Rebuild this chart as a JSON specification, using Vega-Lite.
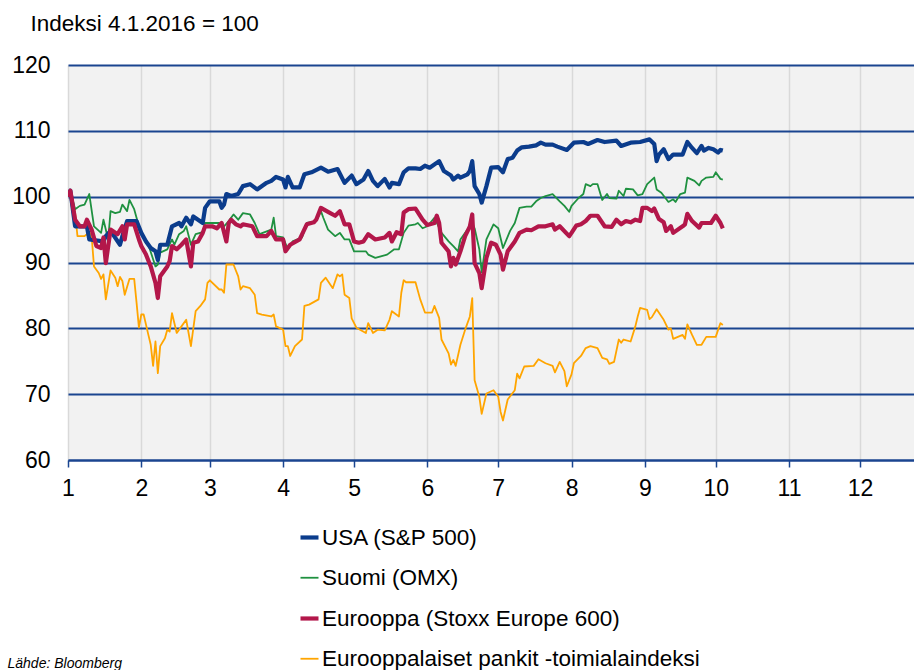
{
  "$schema": "https://vega.github.io/schema/vega-lite/v6.json",
  "autosize": {"type": "none"},
  "padding": {"left": 68, "top": 65, "right": 0, "bottom": 210},
  "width": 846,
  "height": 395,
  "background": "#ffffff",
  "config": {
    "font": "Liberation Sans",
    "view": {"stroke": null, "fill": "#f2f2f2"}
  },
  "data": {"values": [
    {"s":"Eurooppalaiset pankit -toimialaindeksi","d":"2016-01-04","v":100},
    {"s":"Eurooppalaiset pankit -toimialaindeksi","d":"2016-01-05","v":100.6},
    {"s":"Eurooppalaiset pankit -toimialaindeksi","d":"2016-01-07","v":97.6},
    {"s":"Eurooppalaiset pankit -toimialaindeksi","d":"2016-01-08","v":94},
    {"s":"Eurooppalaiset pankit -toimialaindeksi","d":"2016-01-11","v":94},
    {"s":"Eurooppalaiset pankit -toimialaindeksi","d":"2016-01-13","v":94.6},
    {"s":"Eurooppalaiset pankit -toimialaindeksi","d":"2016-01-14","v":94},
    {"s":"Eurooppalaiset pankit -toimialaindeksi","d":"2016-01-15","v":89.4},
    {"s":"Eurooppalaiset pankit -toimialaindeksi","d":"2016-01-17","v":88.4},
    {"s":"Eurooppalaiset pankit -toimialaindeksi","d":"2016-01-18","v":87.5},
    {"s":"Eurooppalaiset pankit -toimialaindeksi","d":"2016-01-19","v":88.2},
    {"s":"Eurooppalaiset pankit -toimialaindeksi","d":"2016-01-20","v":84.4},
    {"s":"Eurooppalaiset pankit -toimialaindeksi","d":"2016-01-22","v":88.8},
    {"s":"Eurooppalaiset pankit -toimialaindeksi","d":"2016-01-24","v":87.7},
    {"s":"Eurooppalaiset pankit -toimialaindeksi","d":"2016-01-25","v":86.4},
    {"s":"Eurooppalaiset pankit -toimialaindeksi","d":"2016-01-26","v":87.8},
    {"s":"Eurooppalaiset pankit -toimialaindeksi","d":"2016-01-27","v":87.2},
    {"s":"Eurooppalaiset pankit -toimialaindeksi","d":"2016-01-28","v":85.1},
    {"s":"Eurooppalaiset pankit -toimialaindeksi","d":"2016-01-30","v":87.5},
    {"s":"Eurooppalaiset pankit -toimialaindeksi","d":"2016-02-01","v":87.5},
    {"s":"Eurooppalaiset pankit -toimialaindeksi","d":"2016-02-02","v":83.9},
    {"s":"Eurooppalaiset pankit -toimialaindeksi","d":"2016-02-03","v":80.1},
    {"s":"Eurooppalaiset pankit -toimialaindeksi","d":"2016-02-04","v":82.1},
    {"s":"Eurooppalaiset pankit -toimialaindeksi","d":"2016-02-05","v":82.1},
    {"s":"Eurooppalaiset pankit -toimialaindeksi","d":"2016-02-07","v":79},
    {"s":"Eurooppalaiset pankit -toimialaindeksi","d":"2016-02-08","v":77.5},
    {"s":"Eurooppalaiset pankit -toimialaindeksi","d":"2016-02-09","v":74.3},
    {"s":"Eurooppalaiset pankit -toimialaindeksi","d":"2016-02-10","v":78},
    {"s":"Eurooppalaiset pankit -toimialaindeksi","d":"2016-02-11","v":73.2},
    {"s":"Eurooppalaiset pankit -toimialaindeksi","d":"2016-02-12","v":77.3},
    {"s":"Eurooppalaiset pankit -toimialaindeksi","d":"2016-02-14","v":78.5},
    {"s":"Eurooppalaiset pankit -toimialaindeksi","d":"2016-02-15","v":79.8},
    {"s":"Eurooppalaiset pankit -toimialaindeksi","d":"2016-02-16","v":79.5},
    {"s":"Eurooppalaiset pankit -toimialaindeksi","d":"2016-02-17","v":82.3},
    {"s":"Eurooppalaiset pankit -toimialaindeksi","d":"2016-02-19","v":79.3},
    {"s":"Eurooppalaiset pankit -toimialaindeksi","d":"2016-02-21","v":80.3},
    {"s":"Eurooppalaiset pankit -toimialaindeksi","d":"2016-02-23","v":81.3},
    {"s":"Eurooppalaiset pankit -toimialaindeksi","d":"2016-02-25","v":77.3},
    {"s":"Eurooppalaiset pankit -toimialaindeksi","d":"2016-02-27","v":82.6},
    {"s":"Eurooppalaiset pankit -toimialaindeksi","d":"2016-02-29","v":83.4},
    {"s":"Eurooppalaiset pankit -toimialaindeksi","d":"2016-03-02","v":84.4},
    {"s":"Eurooppalaiset pankit -toimialaindeksi","d":"2016-03-03","v":86.9},
    {"s":"Eurooppalaiset pankit -toimialaindeksi","d":"2016-03-04","v":87.3},
    {"s":"Eurooppalaiset pankit -toimialaindeksi","d":"2016-03-08","v":85.9},
    {"s":"Eurooppalaiset pankit -toimialaindeksi","d":"2016-03-09","v":85.9},
    {"s":"Eurooppalaiset pankit -toimialaindeksi","d":"2016-03-10","v":85.4},
    {"s":"Eurooppalaiset pankit -toimialaindeksi","d":"2016-03-11","v":89.7},
    {"s":"Eurooppalaiset pankit -toimialaindeksi","d":"2016-03-14","v":89.7},
    {"s":"Eurooppalaiset pankit -toimialaindeksi","d":"2016-03-16","v":87.9},
    {"s":"Eurooppalaiset pankit -toimialaindeksi","d":"2016-03-17","v":85.9},
    {"s":"Eurooppalaiset pankit -toimialaindeksi","d":"2016-03-18","v":86.4},
    {"s":"Eurooppalaiset pankit -toimialaindeksi","d":"2016-03-21","v":86.1},
    {"s":"Eurooppalaiset pankit -toimialaindeksi","d":"2016-03-23","v":85.1},
    {"s":"Eurooppalaiset pankit -toimialaindeksi","d":"2016-03-24","v":82.3},
    {"s":"Eurooppalaiset pankit -toimialaindeksi","d":"2016-03-26","v":82.1},
    {"s":"Eurooppalaiset pankit -toimialaindeksi","d":"2016-03-30","v":81.8},
    {"s":"Eurooppalaiset pankit -toimialaindeksi","d":"2016-03-31","v":82.1},
    {"s":"Eurooppalaiset pankit -toimialaindeksi","d":"2016-04-01","v":80.3},
    {"s":"Eurooppalaiset pankit -toimialaindeksi","d":"2016-04-04","v":79.8},
    {"s":"Eurooppalaiset pankit -toimialaindeksi","d":"2016-04-05","v":77.3},
    {"s":"Eurooppalaiset pankit -toimialaindeksi","d":"2016-04-06","v":77.3},
    {"s":"Eurooppalaiset pankit -toimialaindeksi","d":"2016-04-07","v":75.8},
    {"s":"Eurooppalaiset pankit -toimialaindeksi","d":"2016-04-09","v":77.3},
    {"s":"Eurooppalaiset pankit -toimialaindeksi","d":"2016-04-12","v":78.3},
    {"s":"Eurooppalaiset pankit -toimialaindeksi","d":"2016-04-13","v":83.4},
    {"s":"Eurooppalaiset pankit -toimialaindeksi","d":"2016-04-15","v":83.6},
    {"s":"Eurooppalaiset pankit -toimialaindeksi","d":"2016-04-19","v":84.4},
    {"s":"Eurooppalaiset pankit -toimialaindeksi","d":"2016-04-20","v":86.9},
    {"s":"Eurooppalaiset pankit -toimialaindeksi","d":"2016-04-22","v":87.7},
    {"s":"Eurooppalaiset pankit -toimialaindeksi","d":"2016-04-25","v":86.1},
    {"s":"Eurooppalaiset pankit -toimialaindeksi","d":"2016-04-27","v":88.2},
    {"s":"Eurooppalaiset pankit -toimialaindeksi","d":"2016-04-28","v":87.9},
    {"s":"Eurooppalaiset pankit -toimialaindeksi","d":"2016-04-29","v":88.2},
    {"s":"Eurooppalaiset pankit -toimialaindeksi","d":"2016-04-30","v":85.1},
    {"s":"Eurooppalaiset pankit -toimialaindeksi","d":"2016-05-02","v":84.6},
    {"s":"Eurooppalaiset pankit -toimialaindeksi","d":"2016-05-03","v":81.5},
    {"s":"Eurooppalaiset pankit -toimialaindeksi","d":"2016-05-05","v":80.1},
    {"s":"Eurooppalaiset pankit -toimialaindeksi","d":"2016-05-09","v":79.3},
    {"s":"Eurooppalaiset pankit -toimialaindeksi","d":"2016-05-10","v":80.8},
    {"s":"Eurooppalaiset pankit -toimialaindeksi","d":"2016-05-12","v":79.3},
    {"s":"Eurooppalaiset pankit -toimialaindeksi","d":"2016-05-14","v":79.8},
    {"s":"Eurooppalaiset pankit -toimialaindeksi","d":"2016-05-17","v":79.7},
    {"s":"Eurooppalaiset pankit -toimialaindeksi","d":"2016-05-19","v":81.3},
    {"s":"Eurooppalaiset pankit -toimialaindeksi","d":"2016-05-20","v":82.6},
    {"s":"Eurooppalaiset pankit -toimialaindeksi","d":"2016-05-23","v":81.8},
    {"s":"Eurooppalaiset pankit -toimialaindeksi","d":"2016-05-24","v":85.4},
    {"s":"Eurooppalaiset pankit -toimialaindeksi","d":"2016-05-25","v":87.3},
    {"s":"Eurooppalaiset pankit -toimialaindeksi","d":"2016-05-26","v":87},
    {"s":"Eurooppalaiset pankit -toimialaindeksi","d":"2016-05-30","v":87},
    {"s":"Eurooppalaiset pankit -toimialaindeksi","d":"2016-06-01","v":84.4},
    {"s":"Eurooppalaiset pankit -toimialaindeksi","d":"2016-06-03","v":82.4},
    {"s":"Eurooppalaiset pankit -toimialaindeksi","d":"2016-06-06","v":82.4},
    {"s":"Eurooppalaiset pankit -toimialaindeksi","d":"2016-06-07","v":83.4},
    {"s":"Eurooppalaiset pankit -toimialaindeksi","d":"2016-06-09","v":81.6},
    {"s":"Eurooppalaiset pankit -toimialaindeksi","d":"2016-06-10","v":78.3},
    {"s":"Eurooppalaiset pankit -toimialaindeksi","d":"2016-06-13","v":76.2},
    {"s":"Eurooppalaiset pankit -toimialaindeksi","d":"2016-06-14","v":74.5},
    {"s":"Eurooppalaiset pankit -toimialaindeksi","d":"2016-06-15","v":75.2},
    {"s":"Eurooppalaiset pankit -toimialaindeksi","d":"2016-06-16","v":74.3},
    {"s":"Eurooppalaiset pankit -toimialaindeksi","d":"2016-06-18","v":77.5},
    {"s":"Eurooppalaiset pankit -toimialaindeksi","d":"2016-06-20","v":79.8},
    {"s":"Eurooppalaiset pankit -toimialaindeksi","d":"2016-06-22","v":81.8},
    {"s":"Eurooppalaiset pankit -toimialaindeksi","d":"2016-06-23","v":84.6},
    {"s":"Eurooppalaiset pankit -toimialaindeksi","d":"2016-06-24","v":72.1},
    {"s":"Eurooppalaiset pankit -toimialaindeksi","d":"2016-06-26","v":69.6},
    {"s":"Eurooppalaiset pankit -toimialaindeksi","d":"2016-06-27","v":67},
    {"s":"Eurooppalaiset pankit -toimialaindeksi","d":"2016-06-29","v":70.1},
    {"s":"Eurooppalaiset pankit -toimialaindeksi","d":"2016-07-02","v":70.6},
    {"s":"Eurooppalaiset pankit -toimialaindeksi","d":"2016-07-04","v":69.6},
    {"s":"Eurooppalaiset pankit -toimialaindeksi","d":"2016-07-05","v":67.3},
    {"s":"Eurooppalaiset pankit -toimialaindeksi","d":"2016-07-06","v":66},
    {"s":"Eurooppalaiset pankit -toimialaindeksi","d":"2016-07-08","v":69.2},
    {"s":"Eurooppalaiset pankit -toimialaindeksi","d":"2016-07-11","v":70.6},
    {"s":"Eurooppalaiset pankit -toimialaindeksi","d":"2016-07-12","v":73.1},
    {"s":"Eurooppalaiset pankit -toimialaindeksi","d":"2016-07-13","v":72.4},
    {"s":"Eurooppalaiset pankit -toimialaindeksi","d":"2016-07-15","v":74.2},
    {"s":"Eurooppalaiset pankit -toimialaindeksi","d":"2016-07-19","v":74.3},
    {"s":"Eurooppalaiset pankit -toimialaindeksi","d":"2016-07-21","v":75.3},
    {"s":"Eurooppalaiset pankit -toimialaindeksi","d":"2016-07-24","v":74.7},
    {"s":"Eurooppalaiset pankit -toimialaindeksi","d":"2016-07-27","v":74.3},
    {"s":"Eurooppalaiset pankit -toimialaindeksi","d":"2016-07-28","v":73.3},
    {"s":"Eurooppalaiset pankit -toimialaindeksi","d":"2016-07-30","v":74.9},
    {"s":"Eurooppalaiset pankit -toimialaindeksi","d":"2016-08-01","v":73.5},
    {"s":"Eurooppalaiset pankit -toimialaindeksi","d":"2016-08-02","v":71.2},
    {"s":"Eurooppalaiset pankit -toimialaindeksi","d":"2016-08-04","v":73},
    {"s":"Eurooppalaiset pankit -toimialaindeksi","d":"2016-08-05","v":74.7},
    {"s":"Eurooppalaiset pankit -toimialaindeksi","d":"2016-08-08","v":75.8},
    {"s":"Eurooppalaiset pankit -toimialaindeksi","d":"2016-08-10","v":77},
    {"s":"Eurooppalaiset pankit -toimialaindeksi","d":"2016-08-12","v":77.3},
    {"s":"Eurooppalaiset pankit -toimialaindeksi","d":"2016-08-15","v":77},
    {"s":"Eurooppalaiset pankit -toimialaindeksi","d":"2016-08-17","v":75.5},
    {"s":"Eurooppalaiset pankit -toimialaindeksi","d":"2016-08-19","v":75.3},
    {"s":"Eurooppalaiset pankit -toimialaindeksi","d":"2016-08-20","v":74.6},
    {"s":"Eurooppalaiset pankit -toimialaindeksi","d":"2016-08-22","v":74.9},
    {"s":"Eurooppalaiset pankit -toimialaindeksi","d":"2016-08-24","v":78.3},
    {"s":"Eurooppalaiset pankit -toimialaindeksi","d":"2016-08-25","v":77.8},
    {"s":"Eurooppalaiset pankit -toimialaindeksi","d":"2016-08-26","v":78.3},
    {"s":"Eurooppalaiset pankit -toimialaindeksi","d":"2016-08-29","v":78},
    {"s":"Eurooppalaiset pankit -toimialaindeksi","d":"2016-08-31","v":80.3},
    {"s":"Eurooppalaiset pankit -toimialaindeksi","d":"2016-09-01","v":81.8},
    {"s":"Eurooppalaiset pankit -toimialaindeksi","d":"2016-09-02","v":83.1},
    {"s":"Eurooppalaiset pankit -toimialaindeksi","d":"2016-09-05","v":82.8},
    {"s":"Eurooppalaiset pankit -toimialaindeksi","d":"2016-09-06","v":81.4},
    {"s":"Eurooppalaiset pankit -toimialaindeksi","d":"2016-09-07","v":81.7},
    {"s":"Eurooppalaiset pankit -toimialaindeksi","d":"2016-09-09","v":82.9},
    {"s":"Eurooppalaiset pankit -toimialaindeksi","d":"2016-09-12","v":81.3},
    {"s":"Eurooppalaiset pankit -toimialaindeksi","d":"2016-09-14","v":79.8},
    {"s":"Eurooppalaiset pankit -toimialaindeksi","d":"2016-09-15","v":80},
    {"s":"Eurooppalaiset pankit -toimialaindeksi","d":"2016-09-16","v":78.4},
    {"s":"Eurooppalaiset pankit -toimialaindeksi","d":"2016-09-20","v":79},
    {"s":"Eurooppalaiset pankit -toimialaindeksi","d":"2016-09-21","v":78.4},
    {"s":"Eurooppalaiset pankit -toimialaindeksi","d":"2016-09-22","v":80.6},
    {"s":"Eurooppalaiset pankit -toimialaindeksi","d":"2016-09-24","v":79},
    {"s":"Eurooppalaiset pankit -toimialaindeksi","d":"2016-09-26","v":77.5},
    {"s":"Eurooppalaiset pankit -toimialaindeksi","d":"2016-09-28","v":77.5},
    {"s":"Eurooppalaiset pankit -toimialaindeksi","d":"2016-09-30","v":78.7},
    {"s":"Eurooppalaiset pankit -toimialaindeksi","d":"2016-10-04","v":78.7},
    {"s":"Eurooppalaiset pankit -toimialaindeksi","d":"2016-10-06","v":80.8},
    {"s":"Eurooppalaiset pankit -toimialaindeksi","d":"2016-10-07","v":80.5},

    {"s":"Suomi (OMX)","d":"2016-01-04","v":100},
    {"s":"Suomi (OMX)","d":"2016-01-05","v":100.9},
    {"s":"Suomi (OMX)","d":"2016-01-07","v":98.1},
    {"s":"Suomi (OMX)","d":"2016-01-09","v":98.6},
    {"s":"Suomi (OMX)","d":"2016-01-11","v":98.8},
    {"s":"Suomi (OMX)","d":"2016-01-13","v":100.4},
    {"s":"Suomi (OMX)","d":"2016-01-15","v":95.5},
    {"s":"Suomi (OMX)","d":"2016-01-18","v":94.5},
    {"s":"Suomi (OMX)","d":"2016-01-19","v":96.5},
    {"s":"Suomi (OMX)","d":"2016-01-21","v":93.5},
    {"s":"Suomi (OMX)","d":"2016-01-22","v":97.8},
    {"s":"Suomi (OMX)","d":"2016-01-24","v":97.5},
    {"s":"Suomi (OMX)","d":"2016-01-26","v":97.7},
    {"s":"Suomi (OMX)","d":"2016-01-27","v":98.8},
    {"s":"Suomi (OMX)","d":"2016-01-29","v":97.8},
    {"s":"Suomi (OMX)","d":"2016-01-30","v":99.5},
    {"s":"Suomi (OMX)","d":"2016-02-01","v":98.1},
    {"s":"Suomi (OMX)","d":"2016-02-03","v":95.5},
    {"s":"Suomi (OMX)","d":"2016-02-04","v":94.3},
    {"s":"Suomi (OMX)","d":"2016-02-07","v":92.7},
    {"s":"Suomi (OMX)","d":"2016-02-10","v":89.4},
    {"s":"Suomi (OMX)","d":"2016-02-11","v":89.7},
    {"s":"Suomi (OMX)","d":"2016-02-12","v":91.5},
    {"s":"Suomi (OMX)","d":"2016-02-15","v":92},
    {"s":"Suomi (OMX)","d":"2016-02-17","v":93.5},
    {"s":"Suomi (OMX)","d":"2016-02-18","v":92.7},
    {"s":"Suomi (OMX)","d":"2016-02-20","v":94.3},
    {"s":"Suomi (OMX)","d":"2016-02-22","v":94.8},
    {"s":"Suomi (OMX)","d":"2016-02-23","v":95.5},
    {"s":"Suomi (OMX)","d":"2016-02-25","v":92.7},
    {"s":"Suomi (OMX)","d":"2016-02-27","v":94.3},
    {"s":"Suomi (OMX)","d":"2016-03-01","v":94.6},
    {"s":"Suomi (OMX)","d":"2016-03-02","v":96},
    {"s":"Suomi (OMX)","d":"2016-03-04","v":96},
    {"s":"Suomi (OMX)","d":"2016-03-08","v":96},
    {"s":"Suomi (OMX)","d":"2016-03-10","v":95.5},
    {"s":"Suomi (OMX)","d":"2016-03-12","v":96.3},
    {"s":"Suomi (OMX)","d":"2016-03-14","v":97.3},
    {"s":"Suomi (OMX)","d":"2016-03-16","v":96.5},
    {"s":"Suomi (OMX)","d":"2016-03-18","v":97.5},
    {"s":"Suomi (OMX)","d":"2016-03-21","v":97.3},
    {"s":"Suomi (OMX)","d":"2016-03-23","v":96},
    {"s":"Suomi (OMX)","d":"2016-03-25","v":94.3},
    {"s":"Suomi (OMX)","d":"2016-03-30","v":95},
    {"s":"Suomi (OMX)","d":"2016-03-31","v":96.8},
    {"s":"Suomi (OMX)","d":"2016-04-01","v":94},
    {"s":"Suomi (OMX)","d":"2016-04-04","v":93.8},
    {"s":"Suomi (OMX)","d":"2016-04-06","v":92},
    {"s":"Suomi (OMX)","d":"2016-04-08","v":93.2},
    {"s":"Suomi (OMX)","d":"2016-04-12","v":93.8},
    {"s":"Suomi (OMX)","d":"2016-04-14","v":96},
    {"s":"Suomi (OMX)","d":"2016-04-18","v":96.3},
    {"s":"Suomi (OMX)","d":"2016-04-20","v":97.8},
    {"s":"Suomi (OMX)","d":"2016-04-21","v":96.8},
    {"s":"Suomi (OMX)","d":"2016-04-23","v":95},
    {"s":"Suomi (OMX)","d":"2016-04-26","v":94},
    {"s":"Suomi (OMX)","d":"2016-04-28","v":94.5},
    {"s":"Suomi (OMX)","d":"2016-04-30","v":93.5},
    {"s":"Suomi (OMX)","d":"2016-05-02","v":93.5},
    {"s":"Suomi (OMX)","d":"2016-05-04","v":91.7},
    {"s":"Suomi (OMX)","d":"2016-05-09","v":91.7},
    {"s":"Suomi (OMX)","d":"2016-05-10","v":91.2},
    {"s":"Suomi (OMX)","d":"2016-05-13","v":90.7},
    {"s":"Suomi (OMX)","d":"2016-05-18","v":91.2},
    {"s":"Suomi (OMX)","d":"2016-05-21","v":92},
    {"s":"Suomi (OMX)","d":"2016-05-23","v":92},
    {"s":"Suomi (OMX)","d":"2016-05-25","v":94.5},
    {"s":"Suomi (OMX)","d":"2016-05-27","v":95.6},
    {"s":"Suomi (OMX)","d":"2016-05-30","v":95.8},
    {"s":"Suomi (OMX)","d":"2016-05-31","v":96},
    {"s":"Suomi (OMX)","d":"2016-06-02","v":95.2},
    {"s":"Suomi (OMX)","d":"2016-06-04","v":95.5},
    {"s":"Suomi (OMX)","d":"2016-06-07","v":96.8},
    {"s":"Suomi (OMX)","d":"2016-06-10","v":94.5},
    {"s":"Suomi (OMX)","d":"2016-06-13","v":93.2},
    {"s":"Suomi (OMX)","d":"2016-06-15","v":92.5},
    {"s":"Suomi (OMX)","d":"2016-06-17","v":91.7},
    {"s":"Suomi (OMX)","d":"2016-06-18","v":93.5},
    {"s":"Suomi (OMX)","d":"2016-06-20","v":94.5},
    {"s":"Suomi (OMX)","d":"2016-06-23","v":96},
    {"s":"Suomi (OMX)","d":"2016-06-24","v":95.2},
    {"s":"Suomi (OMX)","d":"2016-06-26","v":92},
    {"s":"Suomi (OMX)","d":"2016-06-27","v":88.5},
    {"s":"Suomi (OMX)","d":"2016-06-29","v":93.5},
    {"s":"Suomi (OMX)","d":"2016-07-02","v":95.8},
    {"s":"Suomi (OMX)","d":"2016-07-04","v":95.2},
    {"s":"Suomi (OMX)","d":"2016-07-06","v":92.2},
    {"s":"Suomi (OMX)","d":"2016-07-09","v":94.8},
    {"s":"Suomi (OMX)","d":"2016-07-11","v":96},
    {"s":"Suomi (OMX)","d":"2016-07-13","v":98.3},
    {"s":"Suomi (OMX)","d":"2016-07-16","v":98.5},
    {"s":"Suomi (OMX)","d":"2016-07-18","v":98.5},
    {"s":"Suomi (OMX)","d":"2016-07-20","v":99.3},
    {"s":"Suomi (OMX)","d":"2016-07-22","v":99.8},
    {"s":"Suomi (OMX)","d":"2016-07-24","v":100.1},
    {"s":"Suomi (OMX)","d":"2016-07-27","v":100.4},
    {"s":"Suomi (OMX)","d":"2016-07-30","v":99.3},
    {"s":"Suomi (OMX)","d":"2016-08-01","v":98.6},
    {"s":"Suomi (OMX)","d":"2016-08-03","v":97.7},
    {"s":"Suomi (OMX)","d":"2016-08-04","v":98.6},
    {"s":"Suomi (OMX)","d":"2016-08-07","v":99.8},
    {"s":"Suomi (OMX)","d":"2016-08-09","v":100.4},
    {"s":"Suomi (OMX)","d":"2016-08-10","v":101.9},
    {"s":"Suomi (OMX)","d":"2016-08-12","v":101.6},
    {"s":"Suomi (OMX)","d":"2016-08-13","v":101.9},
    {"s":"Suomi (OMX)","d":"2016-08-15","v":101.9},
    {"s":"Suomi (OMX)","d":"2016-08-17","v":99.5},
    {"s":"Suomi (OMX)","d":"2016-08-19","v":100.4},
    {"s":"Suomi (OMX)","d":"2016-08-20","v":99.8},
    {"s":"Suomi (OMX)","d":"2016-08-23","v":99.7},
    {"s":"Suomi (OMX)","d":"2016-08-24","v":100.9},
    {"s":"Suomi (OMX)","d":"2016-08-26","v":100.1},
    {"s":"Suomi (OMX)","d":"2016-08-27","v":101.2},
    {"s":"Suomi (OMX)","d":"2016-08-30","v":101.1},
    {"s":"Suomi (OMX)","d":"2016-09-01","v":100.2},
    {"s":"Suomi (OMX)","d":"2016-09-03","v":100.4},
    {"s":"Suomi (OMX)","d":"2016-09-05","v":101.9},
    {"s":"Suomi (OMX)","d":"2016-09-08","v":102.9},
    {"s":"Suomi (OMX)","d":"2016-09-09","v":101.1},
    {"s":"Suomi (OMX)","d":"2016-09-11","v":100.6},
    {"s":"Suomi (OMX)","d":"2016-09-14","v":99.2},
    {"s":"Suomi (OMX)","d":"2016-09-16","v":99.6},
    {"s":"Suomi (OMX)","d":"2016-09-17","v":99.2},
    {"s":"Suomi (OMX)","d":"2016-09-19","v":100.4},
    {"s":"Suomi (OMX)","d":"2016-09-21","v":100.6},
    {"s":"Suomi (OMX)","d":"2016-09-22","v":102.9},
    {"s":"Suomi (OMX)","d":"2016-09-25","v":102.4},
    {"s":"Suomi (OMX)","d":"2016-09-27","v":101.7},
    {"s":"Suomi (OMX)","d":"2016-09-28","v":102.4},
    {"s":"Suomi (OMX)","d":"2016-09-30","v":102.9},
    {"s":"Suomi (OMX)","d":"2016-10-03","v":103},
    {"s":"Suomi (OMX)","d":"2016-10-04","v":103.7},
    {"s":"Suomi (OMX)","d":"2016-10-06","v":102.7},
    {"s":"Suomi (OMX)","d":"2016-10-07","v":102.6},

    {"s":"USA (S&P 500)","d":"2016-01-04","v":100},
    {"s":"USA (S&P 500)","d":"2016-01-05","v":100.9},
    {"s":"USA (S&P 500)","d":"2016-01-07","v":95.5},
    {"s":"USA (S&P 500)","d":"2016-01-12","v":95.5},
    {"s":"USA (S&P 500)","d":"2016-01-13","v":93.5},
    {"s":"USA (S&P 500)","d":"2016-01-19","v":93.2},
    {"s":"USA (S&P 500)","d":"2016-01-20","v":94},
    {"s":"USA (S&P 500)","d":"2016-01-22","v":94.8},
    {"s":"USA (S&P 500)","d":"2016-01-26","v":92.7},
    {"s":"USA (S&P 500)","d":"2016-01-27","v":94},
    {"s":"USA (S&P 500)","d":"2016-01-29","v":96.3},
    {"s":"USA (S&P 500)","d":"2016-02-02","v":96.3},
    {"s":"USA (S&P 500)","d":"2016-02-04","v":94.5},
    {"s":"USA (S&P 500)","d":"2016-02-06","v":93.2},
    {"s":"USA (S&P 500)","d":"2016-02-08","v":92.2},
    {"s":"USA (S&P 500)","d":"2016-02-10","v":91.7},
    {"s":"USA (S&P 500)","d":"2016-02-11","v":90.4},
    {"s":"USA (S&P 500)","d":"2016-02-12","v":92.7},
    {"s":"USA (S&P 500)","d":"2016-02-15","v":92.7},
    {"s":"USA (S&P 500)","d":"2016-02-17","v":95.5},
    {"s":"USA (S&P 500)","d":"2016-02-20","v":96},
    {"s":"USA (S&P 500)","d":"2016-02-21","v":95.5},
    {"s":"USA (S&P 500)","d":"2016-02-23","v":96.8},
    {"s":"USA (S&P 500)","d":"2016-02-25","v":95.8},
    {"s":"USA (S&P 500)","d":"2016-02-26","v":97},
    {"s":"USA (S&P 500)","d":"2016-03-01","v":96},
    {"s":"USA (S&P 500)","d":"2016-03-02","v":98.3},
    {"s":"USA (S&P 500)","d":"2016-03-04","v":99.3},
    {"s":"USA (S&P 500)","d":"2016-03-08","v":99.3},
    {"s":"USA (S&P 500)","d":"2016-03-09","v":98.3},
    {"s":"USA (S&P 500)","d":"2016-03-10","v":98.8},
    {"s":"USA (S&P 500)","d":"2016-03-11","v":100.4},
    {"s":"USA (S&P 500)","d":"2016-03-13","v":100.1},
    {"s":"USA (S&P 500)","d":"2016-03-16","v":100.4},
    {"s":"USA (S&P 500)","d":"2016-03-18","v":101.6},
    {"s":"USA (S&P 500)","d":"2016-03-21","v":101.9},
    {"s":"USA (S&P 500)","d":"2016-03-24","v":101.1},
    {"s":"USA (S&P 500)","d":"2016-03-28","v":102.1},
    {"s":"USA (S&P 500)","d":"2016-03-30","v":102.4},
    {"s":"USA (S&P 500)","d":"2016-04-01","v":103},
    {"s":"USA (S&P 500)","d":"2016-04-04","v":102.6},
    {"s":"USA (S&P 500)","d":"2016-04-05","v":101.4},
    {"s":"USA (S&P 500)","d":"2016-04-06","v":103},
    {"s":"USA (S&P 500)","d":"2016-04-08","v":101.4},
    {"s":"USA (S&P 500)","d":"2016-04-11","v":101.4},
    {"s":"USA (S&P 500)","d":"2016-04-13","v":103.4},
    {"s":"USA (S&P 500)","d":"2016-04-16","v":103.7},
    {"s":"USA (S&P 500)","d":"2016-04-20","v":104.4},
    {"s":"USA (S&P 500)","d":"2016-04-23","v":103.8},
    {"s":"USA (S&P 500)","d":"2016-04-27","v":104.2},
    {"s":"USA (S&P 500)","d":"2016-04-30","v":102.1},
    {"s":"USA (S&P 500)","d":"2016-05-03","v":103.2},
    {"s":"USA (S&P 500)","d":"2016-05-05","v":101.9},
    {"s":"USA (S&P 500)","d":"2016-05-08","v":102.6},
    {"s":"USA (S&P 500)","d":"2016-05-10","v":103.9},
    {"s":"USA (S&P 500)","d":"2016-05-12","v":102.4},
    {"s":"USA (S&P 500)","d":"2016-05-14","v":101.6},
    {"s":"USA (S&P 500)","d":"2016-05-17","v":102.7},
    {"s":"USA (S&P 500)","d":"2016-05-19","v":101.4},
    {"s":"USA (S&P 500)","d":"2016-05-20","v":102.1},
    {"s":"USA (S&P 500)","d":"2016-05-23","v":101.9},
    {"s":"USA (S&P 500)","d":"2016-05-25","v":103.7},
    {"s":"USA (S&P 500)","d":"2016-05-27","v":104.3},
    {"s":"USA (S&P 500)","d":"2016-05-30","v":104.3},
    {"s":"USA (S&P 500)","d":"2016-06-01","v":104.2},
    {"s":"USA (S&P 500)","d":"2016-06-03","v":104.7},
    {"s":"USA (S&P 500)","d":"2016-06-05","v":104.4},
    {"s":"USA (S&P 500)","d":"2016-06-09","v":105.4},
    {"s":"USA (S&P 500)","d":"2016-06-11","v":103.9},
    {"s":"USA (S&P 500)","d":"2016-06-14","v":103.2},
    {"s":"USA (S&P 500)","d":"2016-06-15","v":102.6},
    {"s":"USA (S&P 500)","d":"2016-06-17","v":103.2},
    {"s":"USA (S&P 500)","d":"2016-06-18","v":102.9},
    {"s":"USA (S&P 500)","d":"2016-06-21","v":103.4},
    {"s":"USA (S&P 500)","d":"2016-06-22","v":103.9},
    {"s":"USA (S&P 500)","d":"2016-06-23","v":105.4},
    {"s":"USA (S&P 500)","d":"2016-06-24","v":101.6},
    {"s":"USA (S&P 500)","d":"2016-06-26","v":100.4},
    {"s":"USA (S&P 500)","d":"2016-06-27","v":99.1},
    {"s":"USA (S&P 500)","d":"2016-06-29","v":101.6},
    {"s":"USA (S&P 500)","d":"2016-07-01","v":104.4},
    {"s":"USA (S&P 500)","d":"2016-07-04","v":104.5},
    {"s":"USA (S&P 500)","d":"2016-07-06","v":103.7},
    {"s":"USA (S&P 500)","d":"2016-07-08","v":105.7},
    {"s":"USA (S&P 500)","d":"2016-07-10","v":105.9},
    {"s":"USA (S&P 500)","d":"2016-07-12","v":107},
    {"s":"USA (S&P 500)","d":"2016-07-14","v":107.5},
    {"s":"USA (S&P 500)","d":"2016-07-17","v":107.6},
    {"s":"USA (S&P 500)","d":"2016-07-20","v":107.8},
    {"s":"USA (S&P 500)","d":"2016-07-22","v":108.2},
    {"s":"USA (S&P 500)","d":"2016-07-24","v":107.9},
    {"s":"USA (S&P 500)","d":"2016-07-27","v":107.9},
    {"s":"USA (S&P 500)","d":"2016-07-29","v":107.6},
    {"s":"USA (S&P 500)","d":"2016-08-02","v":107.1},
    {"s":"USA (S&P 500)","d":"2016-08-05","v":108.2},
    {"s":"USA (S&P 500)","d":"2016-08-09","v":108.3},
    {"s":"USA (S&P 500)","d":"2016-08-11","v":108},
    {"s":"USA (S&P 500)","d":"2016-08-15","v":108.6},
    {"s":"USA (S&P 500)","d":"2016-08-18","v":108.3},
    {"s":"USA (S&P 500)","d":"2016-08-23","v":108.5},
    {"s":"USA (S&P 500)","d":"2016-08-25","v":107.7},
    {"s":"USA (S&P 500)","d":"2016-08-29","v":108.2},
    {"s":"USA (S&P 500)","d":"2016-09-02","v":108.3},
    {"s":"USA (S&P 500)","d":"2016-09-06","v":108.7},
    {"s":"USA (S&P 500)","d":"2016-09-08","v":108},
    {"s":"USA (S&P 500)","d":"2016-09-09","v":105.4},
    {"s":"USA (S&P 500)","d":"2016-09-10","v":106.4},
    {"s":"USA (S&P 500)","d":"2016-09-12","v":107.2},
    {"s":"USA (S&P 500)","d":"2016-09-14","v":105.7},
    {"s":"USA (S&P 500)","d":"2016-09-16","v":106.4},
    {"s":"USA (S&P 500)","d":"2016-09-20","v":106.4},
    {"s":"USA (S&P 500)","d":"2016-09-22","v":108.3},
    {"s":"USA (S&P 500)","d":"2016-09-24","v":107.4},
    {"s":"USA (S&P 500)","d":"2016-09-26","v":106.6},
    {"s":"USA (S&P 500)","d":"2016-09-28","v":107.7},
    {"s":"USA (S&P 500)","d":"2016-09-29","v":107},
    {"s":"USA (S&P 500)","d":"2016-10-01","v":107.4},
    {"s":"USA (S&P 500)","d":"2016-10-03","v":107.2},
    {"s":"USA (S&P 500)","d":"2016-10-05","v":106.7},
    {"s":"USA (S&P 500)","d":"2016-10-06","v":107.1},
    {"s":"USA (S&P 500)","d":"2016-10-07","v":107},

    {"s":"Eurooppa (Stoxx Europe 600)","d":"2016-01-04","v":100},
    {"s":"Eurooppa (Stoxx Europe 600)","d":"2016-01-05","v":100.9},
    {"s":"Eurooppa (Stoxx Europe 600)","d":"2016-01-07","v":96.5},
    {"s":"Eurooppa (Stoxx Europe 600)","d":"2016-01-09","v":95.5},
    {"s":"Eurooppa (Stoxx Europe 600)","d":"2016-01-11","v":95.5},
    {"s":"Eurooppa (Stoxx Europe 600)","d":"2016-01-12","v":96.5},
    {"s":"Eurooppa (Stoxx Europe 600)","d":"2016-01-14","v":95},
    {"s":"Eurooppa (Stoxx Europe 600)","d":"2016-01-16","v":92.5},
    {"s":"Eurooppa (Stoxx Europe 600)","d":"2016-01-18","v":92.2},
    {"s":"Eurooppa (Stoxx Europe 600)","d":"2016-01-19","v":93.8},
    {"s":"Eurooppa (Stoxx Europe 600)","d":"2016-01-20","v":89.9},
    {"s":"Eurooppa (Stoxx Europe 600)","d":"2016-01-22","v":95},
    {"s":"Eurooppa (Stoxx Europe 600)","d":"2016-01-25","v":94.3},
    {"s":"Eurooppa (Stoxx Europe 600)","d":"2016-01-27","v":95.5},
    {"s":"Eurooppa (Stoxx Europe 600)","d":"2016-01-28","v":93.5},
    {"s":"Eurooppa (Stoxx Europe 600)","d":"2016-01-29","v":95.8},
    {"s":"Eurooppa (Stoxx Europe 600)","d":"2016-02-01","v":95.8},
    {"s":"Eurooppa (Stoxx Europe 600)","d":"2016-02-03","v":93.5},
    {"s":"Eurooppa (Stoxx Europe 600)","d":"2016-02-04","v":92.5},
    {"s":"Eurooppa (Stoxx Europe 600)","d":"2016-02-06","v":91.2},
    {"s":"Eurooppa (Stoxx Europe 600)","d":"2016-02-08","v":89.4},
    {"s":"Eurooppa (Stoxx Europe 600)","d":"2016-02-10","v":86.9},
    {"s":"Eurooppa (Stoxx Europe 600)","d":"2016-02-11","v":84.6},
    {"s":"Eurooppa (Stoxx Europe 600)","d":"2016-02-12","v":87.9},
    {"s":"Eurooppa (Stoxx Europe 600)","d":"2016-02-15","v":89.4},
    {"s":"Eurooppa (Stoxx Europe 600)","d":"2016-02-16","v":90.2},
    {"s":"Eurooppa (Stoxx Europe 600)","d":"2016-02-17","v":92.5},
    {"s":"Eurooppa (Stoxx Europe 600)","d":"2016-02-19","v":92},
    {"s":"Eurooppa (Stoxx Europe 600)","d":"2016-02-21","v":92.7},
    {"s":"Eurooppa (Stoxx Europe 600)","d":"2016-02-23","v":93.5},
    {"s":"Eurooppa (Stoxx Europe 600)","d":"2016-02-25","v":89.4},
    {"s":"Eurooppa (Stoxx Europe 600)","d":"2016-02-26","v":93},
    {"s":"Eurooppa (Stoxx Europe 600)","d":"2016-02-28","v":93.2},
    {"s":"Eurooppa (Stoxx Europe 600)","d":"2016-03-01","v":94.5},
    {"s":"Eurooppa (Stoxx Europe 600)","d":"2016-03-02","v":95.5},
    {"s":"Eurooppa (Stoxx Europe 600)","d":"2016-03-05","v":95.5},
    {"s":"Eurooppa (Stoxx Europe 600)","d":"2016-03-07","v":95.2},
    {"s":"Eurooppa (Stoxx Europe 600)","d":"2016-03-09","v":96},
    {"s":"Eurooppa (Stoxx Europe 600)","d":"2016-03-11","v":93.2},
    {"s":"Eurooppa (Stoxx Europe 600)","d":"2016-03-12","v":96},
    {"s":"Eurooppa (Stoxx Europe 600)","d":"2016-03-13","v":96.5},
    {"s":"Eurooppa (Stoxx Europe 600)","d":"2016-03-15","v":95.8},
    {"s":"Eurooppa (Stoxx Europe 600)","d":"2016-03-17","v":95.5},
    {"s":"Eurooppa (Stoxx Europe 600)","d":"2016-03-18","v":95.8},
    {"s":"Eurooppa (Stoxx Europe 600)","d":"2016-03-22","v":95.5},
    {"s":"Eurooppa (Stoxx Europe 600)","d":"2016-03-24","v":94},
    {"s":"Eurooppa (Stoxx Europe 600)","d":"2016-03-28","v":94},
    {"s":"Eurooppa (Stoxx Europe 600)","d":"2016-03-30","v":94.8},
    {"s":"Eurooppa (Stoxx Europe 600)","d":"2016-04-01","v":93.5},
    {"s":"Eurooppa (Stoxx Europe 600)","d":"2016-04-04","v":93.5},
    {"s":"Eurooppa (Stoxx Europe 600)","d":"2016-04-05","v":91.7},
    {"s":"Eurooppa (Stoxx Europe 600)","d":"2016-04-07","v":92.7},
    {"s":"Eurooppa (Stoxx Europe 600)","d":"2016-04-11","v":93.5},
    {"s":"Eurooppa (Stoxx Europe 600)","d":"2016-04-14","v":95.8},
    {"s":"Eurooppa (Stoxx Europe 600)","d":"2016-04-17","v":96.1},
    {"s":"Eurooppa (Stoxx Europe 600)","d":"2016-04-18","v":96.5},
    {"s":"Eurooppa (Stoxx Europe 600)","d":"2016-04-20","v":98.3},
    {"s":"Eurooppa (Stoxx Europe 600)","d":"2016-04-23","v":97.7},
    {"s":"Eurooppa (Stoxx Europe 600)","d":"2016-04-26","v":97.1},
    {"s":"Eurooppa (Stoxx Europe 600)","d":"2016-04-28","v":97.8},
    {"s":"Eurooppa (Stoxx Europe 600)","d":"2016-04-30","v":95.8},
    {"s":"Eurooppa (Stoxx Europe 600)","d":"2016-05-02","v":95.8},
    {"s":"Eurooppa (Stoxx Europe 600)","d":"2016-05-04","v":93.2},
    {"s":"Eurooppa (Stoxx Europe 600)","d":"2016-05-06","v":93},
    {"s":"Eurooppa (Stoxx Europe 600)","d":"2016-05-08","v":93.2},
    {"s":"Eurooppa (Stoxx Europe 600)","d":"2016-05-10","v":94.3},
    {"s":"Eurooppa (Stoxx Europe 600)","d":"2016-05-13","v":93.5},
    {"s":"Eurooppa (Stoxx Europe 600)","d":"2016-05-17","v":93.8},
    {"s":"Eurooppa (Stoxx Europe 600)","d":"2016-05-19","v":94.5},
    {"s":"Eurooppa (Stoxx Europe 600)","d":"2016-05-20","v":93.2},
    {"s":"Eurooppa (Stoxx Europe 600)","d":"2016-05-22","v":94.6},
    {"s":"Eurooppa (Stoxx Europe 600)","d":"2016-05-24","v":94.3},
    {"s":"Eurooppa (Stoxx Europe 600)","d":"2016-05-25","v":97.6},
    {"s":"Eurooppa (Stoxx Europe 600)","d":"2016-05-27","v":98.1},
    {"s":"Eurooppa (Stoxx Europe 600)","d":"2016-05-30","v":98.2},
    {"s":"Eurooppa (Stoxx Europe 600)","d":"2016-06-02","v":96.5},
    {"s":"Eurooppa (Stoxx Europe 600)","d":"2016-06-04","v":95.7},
    {"s":"Eurooppa (Stoxx Europe 600)","d":"2016-06-07","v":96},
    {"s":"Eurooppa (Stoxx Europe 600)","d":"2016-06-08","v":97.1},
    {"s":"Eurooppa (Stoxx Europe 600)","d":"2016-06-09","v":96},
    {"s":"Eurooppa (Stoxx Europe 600)","d":"2016-06-10","v":93},
    {"s":"Eurooppa (Stoxx Europe 600)","d":"2016-06-13","v":91.7},
    {"s":"Eurooppa (Stoxx Europe 600)","d":"2016-06-14","v":89.4},
    {"s":"Eurooppa (Stoxx Europe 600)","d":"2016-06-15","v":90.7},
    {"s":"Eurooppa (Stoxx Europe 600)","d":"2016-06-16","v":89.7},
    {"s":"Eurooppa (Stoxx Europe 600)","d":"2016-06-18","v":91.7},
    {"s":"Eurooppa (Stoxx Europe 600)","d":"2016-06-20","v":94},
    {"s":"Eurooppa (Stoxx Europe 600)","d":"2016-06-22","v":95.5},
    {"s":"Eurooppa (Stoxx Europe 600)","d":"2016-06-23","v":97.3},
    {"s":"Eurooppa (Stoxx Europe 600)","d":"2016-06-24","v":89.9},
    {"s":"Eurooppa (Stoxx Europe 600)","d":"2016-06-26","v":88.4},
    {"s":"Eurooppa (Stoxx Europe 600)","d":"2016-06-27","v":86.1},
    {"s":"Eurooppa (Stoxx Europe 600)","d":"2016-06-29","v":90.7},
    {"s":"Eurooppa (Stoxx Europe 600)","d":"2016-07-01","v":93},
    {"s":"Eurooppa (Stoxx Europe 600)","d":"2016-07-03","v":92.7},
    {"s":"Eurooppa (Stoxx Europe 600)","d":"2016-07-05","v":91.2},
    {"s":"Eurooppa (Stoxx Europe 600)","d":"2016-07-06","v":88.9},
    {"s":"Eurooppa (Stoxx Europe 600)","d":"2016-07-08","v":91.7},
    {"s":"Eurooppa (Stoxx Europe 600)","d":"2016-07-11","v":93.2},
    {"s":"Eurooppa (Stoxx Europe 600)","d":"2016-07-13","v":94.5},
    {"s":"Eurooppa (Stoxx Europe 600)","d":"2016-07-16","v":95},
    {"s":"Eurooppa (Stoxx Europe 600)","d":"2016-07-18","v":94.9},
    {"s":"Eurooppa (Stoxx Europe 600)","d":"2016-07-21","v":95.5},
    {"s":"Eurooppa (Stoxx Europe 600)","d":"2016-07-24","v":95.5},
    {"s":"Eurooppa (Stoxx Europe 600)","d":"2016-07-27","v":95.8},
    {"s":"Eurooppa (Stoxx Europe 600)","d":"2016-07-28","v":95},
    {"s":"Eurooppa (Stoxx Europe 600)","d":"2016-07-30","v":95.5},
    {"s":"Eurooppa (Stoxx Europe 600)","d":"2016-08-03","v":94},
    {"s":"Eurooppa (Stoxx Europe 600)","d":"2016-08-04","v":94.5},
    {"s":"Eurooppa (Stoxx Europe 600)","d":"2016-08-06","v":95.6},
    {"s":"Eurooppa (Stoxx Europe 600)","d":"2016-08-08","v":95.8},
    {"s":"Eurooppa (Stoxx Europe 600)","d":"2016-08-10","v":96.3},
    {"s":"Eurooppa (Stoxx Europe 600)","d":"2016-08-12","v":97.1},
    {"s":"Eurooppa (Stoxx Europe 600)","d":"2016-08-15","v":97.1},
    {"s":"Eurooppa (Stoxx Europe 600)","d":"2016-08-18","v":95.5},
    {"s":"Eurooppa (Stoxx Europe 600)","d":"2016-08-21","v":95.4},
    {"s":"Eurooppa (Stoxx Europe 600)","d":"2016-08-23","v":96.5},
    {"s":"Eurooppa (Stoxx Europe 600)","d":"2016-08-25","v":95.8},
    {"s":"Eurooppa (Stoxx Europe 600)","d":"2016-08-27","v":96.3},
    {"s":"Eurooppa (Stoxx Europe 600)","d":"2016-08-29","v":96.1},
    {"s":"Eurooppa (Stoxx Europe 600)","d":"2016-08-31","v":96.5},
    {"s":"Eurooppa (Stoxx Europe 600)","d":"2016-09-02","v":96.3},
    {"s":"Eurooppa (Stoxx Europe 600)","d":"2016-09-03","v":98.3},
    {"s":"Eurooppa (Stoxx Europe 600)","d":"2016-09-05","v":98.3},
    {"s":"Eurooppa (Stoxx Europe 600)","d":"2016-09-07","v":97.8},
    {"s":"Eurooppa (Stoxx Europe 600)","d":"2016-09-08","v":98.2},
    {"s":"Eurooppa (Stoxx Europe 600)","d":"2016-09-10","v":96.6},
    {"s":"Eurooppa (Stoxx Europe 600)","d":"2016-09-12","v":96.1},
    {"s":"Eurooppa (Stoxx Europe 600)","d":"2016-09-13","v":94.8},
    {"s":"Eurooppa (Stoxx Europe 600)","d":"2016-09-15","v":95.5},
    {"s":"Eurooppa (Stoxx Europe 600)","d":"2016-09-16","v":94.5},
    {"s":"Eurooppa (Stoxx Europe 600)","d":"2016-09-20","v":95.5},
    {"s":"Eurooppa (Stoxx Europe 600)","d":"2016-09-21","v":95.8},
    {"s":"Eurooppa (Stoxx Europe 600)","d":"2016-09-22","v":97.4},
    {"s":"Eurooppa (Stoxx Europe 600)","d":"2016-09-24","v":96.3},
    {"s":"Eurooppa (Stoxx Europe 600)","d":"2016-09-27","v":95.3},
    {"s":"Eurooppa (Stoxx Europe 600)","d":"2016-09-28","v":96},
    {"s":"Eurooppa (Stoxx Europe 600)","d":"2016-10-02","v":96},
    {"s":"Eurooppa (Stoxx Europe 600)","d":"2016-10-04","v":97.1},
    {"s":"Eurooppa (Stoxx Europe 600)","d":"2016-10-06","v":96},
    {"s":"Eurooppa (Stoxx Europe 600)","d":"2016-10-07","v":95.2}
  ]},
  "encoding": {
    "x": {
      "field": "d",
      "type": "temporal",
      "scale": {
        "type": "utc",
        "domain": [
          {"year": 2016, "month": 1, "date": 4, "utc": true},
          {"year": 2016, "month": 12, "date": 26, "hours": 21, "utc": true}
        ]
      },
      "axis": {
        "values": [
          {"year": 2016, "month": 1, "date": 4, "utc": true},
          {"year": 2016, "month": 2, "date": 4, "utc": true},
          {"year": 2016, "month": 3, "date": 4, "utc": true},
          {"year": 2016, "month": 4, "date": 4, "utc": true},
          {"year": 2016, "month": 5, "date": 4, "utc": true},
          {"year": 2016, "month": 6, "date": 4, "utc": true},
          {"year": 2016, "month": 7, "date": 4, "utc": true},
          {"year": 2016, "month": 8, "date": 4, "utc": true},
          {"year": 2016, "month": 9, "date": 4, "utc": true},
          {"year": 2016, "month": 10, "date": 4, "utc": true},
          {"year": 2016, "month": 11, "date": 4, "utc": true},
          {"year": 2016, "month": 12, "date": 4, "utc": true}
        ],
        "format": "%-m",
        "labelFlush": false,
        "labelOverlap": false,
        "labelFontSize": 23,
        "labelColor": "#000000",
        "labelPadding": 10,
        "grid": true,
        "gridColor": "#d9d9d9",
        "gridWidth": 1.5,
        "domainColor": "#1a4590",
        "domainWidth": 2,
        "tickColor": "#1a4590",
        "tickWidth": 1.5,
        "tickSize": 7,
        "title": "Lähde: Bloomberg",
        "titleFontSize": 14,
        "titleFontStyle": "italic",
        "titleFontWeight": "normal",
        "titleColor": "#000000",
        "titleAlign": "left",
        "titleBaseline": "top",
        "titleAnchor": "start",
        "titleX": -61,
        "titleY": 196
      }
    },
    "y": {
      "field": "v",
      "type": "quantitative",
      "scale": {"domain": [60, 120], "nice": false, "zero": false},
      "axis": {
        "values": [60, 70, 80, 90, 100, 110, 120],
        "grid": true,
        "gridColor": "#1a4590",
        "gridWidth": 2,
        "domain": false,
        "ticks": false,
        "labelFontSize": 23,
        "labelColor": "#000000",
        "labelPadding": 18,
        "title": "Indeksi 4.1.2016 = 100",
        "titleAngle": 0,
        "titleFontSize": 22.5,
        "titleFontWeight": "normal",
        "titleColor": "#000000",
        "titleAlign": "left",
        "titleBaseline": "top",
        "titleAnchor": "start",
        "titleX": -38,
        "titleY": -53
      }
    },
    "color": {
      "field": "s",
      "type": "nominal",
      "scale": {
        "domain": ["USA (S&P 500)", "Suomi (OMX)", "Eurooppa (Stoxx Europe 600)", "Eurooppalaiset pankit -toimialaindeksi"],
        "range": ["#0b3c8c", "#1f9140", "#b3174a", "#ffa500"]
      },
      "legend": {
        "title": null,
        "orient": "none",
        "legendX": 230,
        "legendY": 461,
        "direction": "vertical",
        "padding": 0,
        "symbolType": "stroke",
        "symbolSize": 324,
        "rowPadding": 17.5,
        "labelFontSize": 22.5,
        "labelColor": "#000000",
        "labelOffset": 1,
        "labelLimit": 600
      }
    },
    "strokeWidth": {
      "field": "s",
      "type": "nominal",
      "scale": {
        "type": "ordinal",
        "domain": ["USA (S&P 500)", "Suomi (OMX)", "Eurooppa (Stoxx Europe 600)", "Eurooppalaiset pankit -toimialaindeksi"],
        "range": [4.2, 1.8, 4.2, 1.8]
      },
      "legend": {
        "title": null,
        "orient": "none",
        "legendX": 230,
        "legendY": 461,
        "direction": "vertical",
        "padding": 0,
        "symbolType": "stroke",
        "symbolSize": 324,
        "rowPadding": 17.5,
        "labelFontSize": 22.5,
        "labelColor": "#000000",
        "labelOffset": 1,
        "labelLimit": 600
      }
    }
  },
  "layer": [
    {
      "transform": [{"filter": "datum.s === 'Eurooppalaiset pankit -toimialaindeksi'"}],
      "mark": {"type": "line", "strokeJoin": "round", "clip": true}
    },
    {
      "transform": [{"filter": "datum.s === 'Suomi (OMX)'"}],
      "mark": {"type": "line", "strokeJoin": "round", "clip": true}
    },
    {
      "transform": [{"filter": "datum.s === 'USA (S&P 500)'"}],
      "mark": {"type": "line", "strokeJoin": "round", "clip": true}
    },
    {
      "transform": [{"filter": "datum.s === 'Eurooppa (Stoxx Europe 600)'"}],
      "mark": {"type": "line", "strokeJoin": "round", "clip": true}
    }
  ]
}
